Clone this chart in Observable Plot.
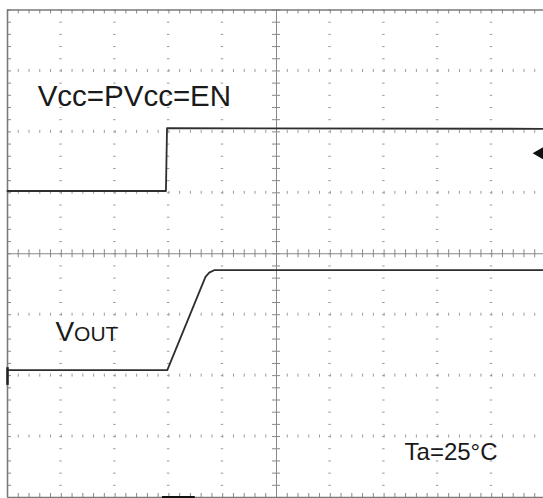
<!DOCTYPE html>
<html><head><meta charset="utf-8">
<script src="https://cdn.jsdelivr.net/npm/d3@7"></script>
<script src="https://cdn.jsdelivr.net/npm/@observablehq/plot@0.6"></script>
<style>html,body{margin:0;padding:0;background:#fff;overflow:hidden}</style>
</head><body><div id="chart"></div>
<script>
// Oscilloscope trace values, in divisions (x: 0–10 time divs, y: 0–8 voltage divs)
const vccX  = [0, 2.945, 2.965, 10];
const vccY  = [5.03, 5.03, 6.06, 6.05];
const voutX = [0, 2.97, 3.68, 3.75, 3.84, 10];
const voutY = [2.09, 2.09, 3.62, 3.69, 3.73, 3.73];
// Labels
const labelText = ["Vcc=PVcc=EN", "VOUT", "Ta=25°C"];
const labelX = [0.56, 0.89, 7.38];
const labelY = [6.42, 2.565, 0.61];
// Markers
const trigX = [9.9], trigY = [5.65];
const gndX = [0], gndY1 = [1.84], gndY2 = [2.13];
const posX1 = [2.88], posX2 = [3.49];
// Graticule
const majorX = [1, 2, 3, 4, 6, 7, 8, 9];
const majorY = [1, 2, 3, 5, 6, 7];
const minorX = d3.range(0, 50.5).map(i => i / 5);
const minorY = d3.range(0, 40.5).map(i => i / 5);

const vcc = vccX.map((x, i) => ({x, y: vccY[i]}));
const vout = voutX.map((x, i) => ({x, y: voutY[i]}));
const labels = labelText.map((t, i) => ({t, x: labelX[i], y: labelY[i]}));

const hDots = majorY.flatMap(y => minorX.map(x => ({x, y})));
const vDots = majorX.flatMap(x => minorY.map(y => ({x, y})));

const frameC = "#7a7a7a", tickC = "#888", dotC = "#9a9a9a";

const chart = Plot.plot({
  width: 543, height: 498,
  marginTop: 0, marginRight: 0, marginBottom: 0, marginLeft: 0,
  x: {domain: [0, 10], range: [7, 545], axis: null},
  y: {domain: [0, 8], range: [497, 9.5], axis: null},
  style: {background: "#fff", fontFamily: "'Liberation Sans', Arial, sans-serif"},
  marks: [
    // grid dots
    Plot.ruleX(hDots, {x: "x", y1: "y", y2: "y", insetTop: -1.5, insetBottom: -1.5, stroke: dotC, strokeWidth: 1}),
    Plot.ruleY(vDots, {y: "y", x1: "x", x2: "x", insetLeft: -1.5, insetRight: -1, stroke: dotC, strokeWidth: 1}),
    // center axes
    Plot.ruleX([5], {y1: 0, y2: 8, stroke: tickC, strokeWidth: 1}),
    Plot.ruleY([4], {x1: 0, x2: 10, stroke: tickC, strokeWidth: 1}),
    Plot.ruleX(minorX, {x: d => d, y1: 4, y2: 4, insetTop: -4, insetBottom: -4, stroke: tickC, strokeWidth: 1}),
    Plot.ruleY(minorY, {y: d => d, x1: 5, x2: 5, insetLeft: -4, insetRight: -4, stroke: tickC, strokeWidth: 1}),
    // frame ticks
    Plot.ruleX(minorX, {x: d => d, y1: 8, y2: 8, insetTop: 0, insetBottom: -4, stroke: tickC, strokeWidth: 1}),
    Plot.ruleX(minorX, {x: d => d, y1: 0, y2: 0, insetTop: -4, insetBottom: 0, stroke: tickC, strokeWidth: 1}),
    Plot.ruleY(minorY, {y: d => d, x1: 0, x2: 0, insetLeft: 0, insetRight: -4, stroke: tickC, strokeWidth: 1}),
    // frame
    Plot.ruleY([8, 0], {x1: 0, x2: 10, stroke: frameC, strokeWidth: 1.6}),
    Plot.ruleX([0], {y1: 0, y2: 8, stroke: frameC, strokeWidth: 1.6}),
    // traces
    Plot.line(vcc, {x: "x", y: "y", stroke: "#2e2e2e", strokeWidth: 1.8}),
    Plot.line(vout, {x: "x", y: "y", stroke: "#2e2e2e", strokeWidth: 1.8}),
    // markers
    Plot.ruleX(gndX, {x: d => d, y1: () => gndY1[0], y2: () => gndY2[0], stroke: "#222", strokeWidth: 2.5}),
    Plot.ruleY([0], {x1: posX1[0], x2: posX2[0], stroke: "#111", strokeWidth: 3}),
    Plot.dot(trigX.map((x, i) => ({x, y: trigY[i]})), {x: "x", y: "y", symbol: "triangle", r: 4.8, rotate: -90, fill: "#111", stroke: "none"}),
    // labels
    Plot.text(labels, {x: "x", y: "y", text: "t", textAnchor: "start", lineAnchor: "bottom", fill: "#1a1a1a",
      fontSize: d => d.t === "Ta=25°C" ? 24 : d.t === "VOUT" ? 28 : 29.5})
  ]
});
document.getElementById("chart").appendChild(chart);

// Render the OUT part of "VOUT" as smaller capitals
d3.select(chart).selectAll("text").each(function() {
  if (this.textContent === "VOUT") {
    const t = d3.select(this);
    t.text("");
    t.append("tspan").text("V");
    t.append("tspan").attr("font-size", 21).text("OUT");
  }
});
</script>
</body></html>
